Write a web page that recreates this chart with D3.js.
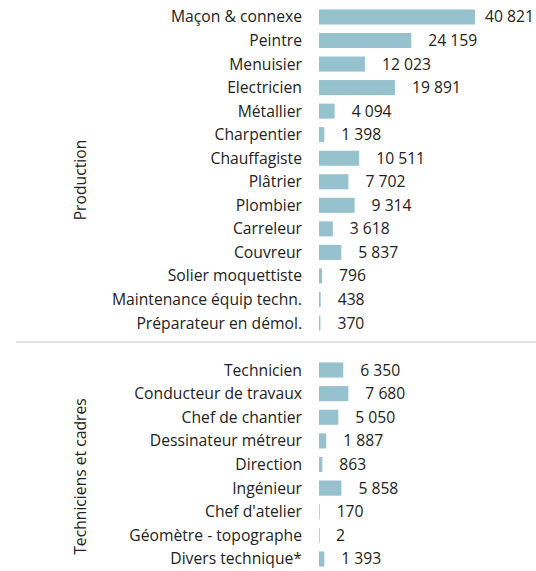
<!DOCTYPE html>
<html>
<head>
<meta charset="utf-8">
<script src="https://cdn.jsdelivr.net/npm/d3@7"></script>
<style>
  body { margin: 0; background: #fff; }
  text { font-family: "Open Sans", sans-serif; font-size: 15.7px; fill: #222; }
</style>
</head>
<body>
<script>
(function(d3) {

  // data
  var productionMetiers = ["Maçon & connexe", "Peintre", "Menuisier", "Electricien", "Métallier",
    "Charpentier", "Chauffagiste", "Plâtrier", "Plombier", "Carreleur", "Couvreur",
    "Solier moquettiste", "Maintenance équip techn.", "Préparateur en démol."];
  var productionValues = [40821, 24159, 12023, 19891, 4094, 1398, 10511, 7702, 9314, 3618, 5837, 796, 438, 370];

  var techMetiers = ["Technicien", "Conducteur de travaux", "Chef de chantier", "Dessinateur métreur",
    "Direction", "Ingénieur", "Chef d'atelier", "Géomètre - topographe", "Divers technique*"];
  var techValues = [6350, 7680, 5050, 1887, 863, 5858, 170, 2, 1393];

  var groupNames = ["Production", "Techniciens et cadres"];

  var width = 536, height = 571,
      barLeft = 319, barMax = 156;

  var svg = d3.select("body").append("svg")
      .attr("width", width)
      .attr("height", height);

  var x = d3.scaleLinear()
      .domain([0, d3.max(productionValues.concat(techValues))])
      .range([0, barMax]);

  var fmt = function(v) { return d3.format(",")(v).replace(/,/g, " "); };

  var groups = [
    {name: groupNames[0], metiers: productionMetiers, values: productionValues, range: [5.2, 334.8], labelShift: 10},
    {name: groupNames[1], metiers: techMetiers, values: techValues, range: [358.2, 570.8], labelShift: 12}
  ];

  groups.forEach(function(grp) {
    var y = d3.scaleBand()
        .domain(grp.metiers)
        .range(grp.range)
        .paddingInner(0.36)
        .paddingOuter(0.18);

    var g = svg.append("g");
    var rows = g.selectAll(".row")
        .data(grp.metiers.map(function(m, i) { return {metier: m, value: grp.values[i]}; }))
      .enter().append("g")
        .attr("class", "row")
        .attr("transform", function(d) { return "translate(0," + y(d.metier) + ")"; });

    rows.append("rect")
        .attr("x", barLeft)
        .attr("width", function(d) { return Math.max(x(d.value), 0.7); })
        .attr("height", y.bandwidth())
        .attr("fill", "#96c2ce");

    rows.append("text")
        .attr("x", barLeft - 17)
        .attr("y", y.bandwidth() / 2)
        .attr("dy", "0.35em")
        .attr("text-anchor", "end")
        .text(function(d) { return d.metier; });

    rows.append("text")
        .attr("y", y.bandwidth() / 2)
        .attr("dy", "0.35em")
        .text(function(d) { return fmt(d.value); })
        .attr("x", function(d) {
          var w = this.getComputedTextLength();
          return Math.min(barLeft + x(d.value) + 17, width - w - 2);
        });

    var mid = (grp.range[0] + grp.range[1]) / 2 + grp.labelShift;
    g.append("text")
        .attr("transform", "translate(80," + mid + ") rotate(-90)")
        .attr("dy", "0.35em")
        .attr("text-anchor", "middle")
        .text(grp.name);
  });

  svg.append("line")
      .attr("x1", 16)
      .attr("x2", width)
      .attr("y1", 342)
      .attr("y2", 342)
      .attr("stroke", "#e3e3e3")
      .attr("stroke-width", 2);

}(d3));
</script>
</body>
</html>
